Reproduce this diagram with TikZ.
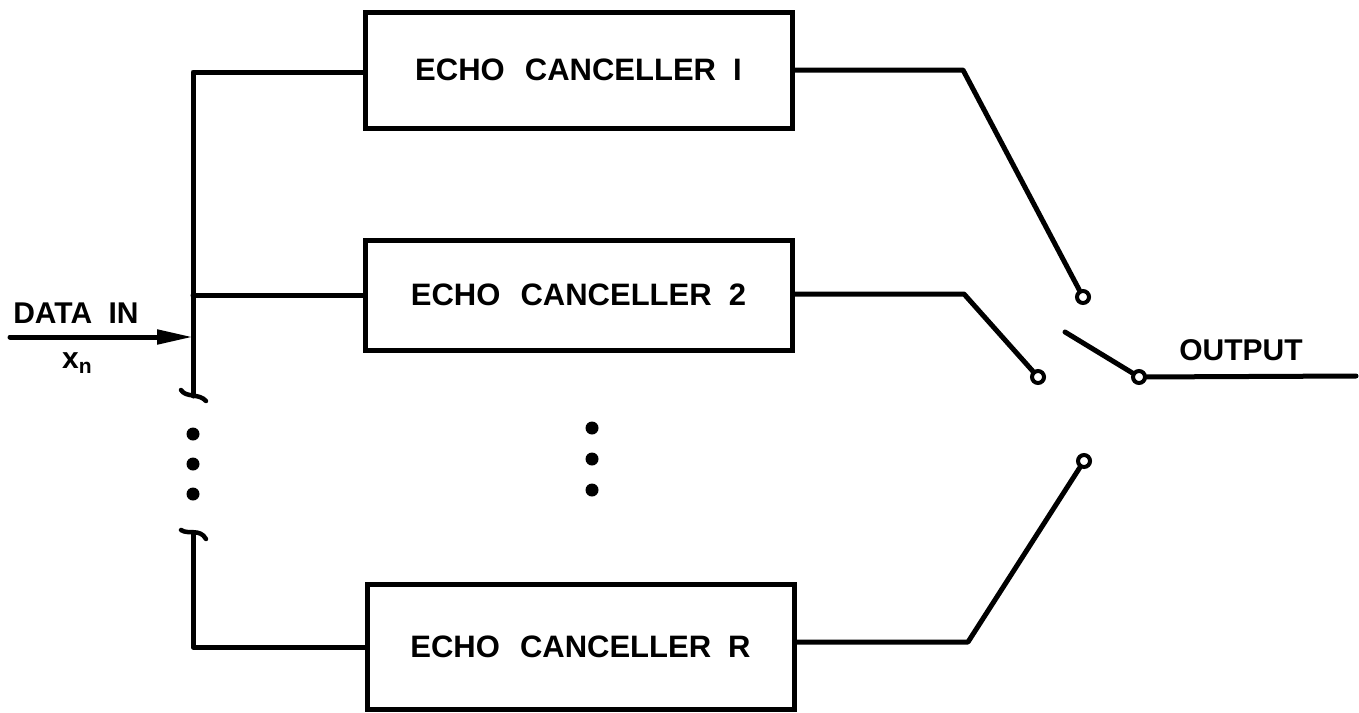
\documentclass[tikz,border=0pt]{standalone}
\usepackage{fontspec}
\setmainfont{Liberation Sans}
\usetikzlibrary{arrows.meta}
\begin{document}
\begin{tikzpicture}[x=1pt,y=-1pt,
  wire/.style={line width=5pt,line join=round,line cap=round},
  ecbox/.style={draw,line width=5pt,minimum width=427pt,inner sep=0pt,font=\fontsize{31}{31}\bfseries},
  lbl/.style={font=\fontsize{30}{30}\bfseries,inner sep=0pt},
  term/.style={circle,draw,line width=4pt,minimum size=12pt,inner sep=0pt,fill=white},
  dotm/.style={circle,fill=black,minimum size=13pt,inner sep=0pt}]
\useasboundingbox (0,0) rectangle (1359,712);
% boxes
\node[ecbox,minimum height=116pt] (b1) at (578.5,70) {ECHO\hspace{0.65em}CANCELLER\hspace{0.55em}I};
\node[ecbox,minimum height=110pt] (b2) at (578.5,295) {ECHO\hspace{0.65em}CANCELLER\hspace{0.55em}2};
\node[ecbox,minimum height=125pt] (bR) at (580.5,647) {ECHO\hspace{0.65em}CANCELLER\hspace{0.55em}R};
% bus coordinates
\coordinate (bt) at (193,72);
\coordinate (bj) at (193,337);
\coordinate (bk) at (193,396);
\coordinate (bl) at (193,533);
\coordinate (bb) at (193,647);
\draw[wire] (b1.west |- bt) -- (bt) -- (bk);
\draw[wire] (b2.west) -- (b2.west -| bt);
\draw[wire] (bl) -- (bb) -- (bR.west);
% hooks
\draw[line width=4.5pt,line cap=round] (181,390) .. controls (186,398) and (199,393) .. (206,401);
\draw[line width=4.5pt,line cap=round] (181,530) .. controls (188,535) and (200,528) .. (206,539);
% input arrow
\coordinate (din) at (10,337);
\draw[wire,-{Triangle[length=36pt,width=14pt]}] (din) -- (bj);
\node[lbl] (dinl) at (76,313) {DATA\hspace{0.55em}IN};
\node[lbl] (xn) at (77,363) {x\raisebox{-5pt}{\fontsize{21}{21}\selectfont n}};
% dots
\node[dotm] (d1) at (193,434) {};
\node[dotm] (d2) at (193,464) {};
\node[dotm] (d3) at (193,494) {};
\node[dotm] (m1) at (592,428) {};
\node[dotm] (m2) at (592,459) {};
\node[dotm] (m3) at (592,490) {};
% switch terminals
\node[term] (c1) at (1083,297) {};
\node[term] (c2) at (1038,377) {};
\node[term] (cR) at (1084,461) {};
\node[term] (pv) at (1139,377) {};
\coordinate (k1) at (963,70);
\coordinate (k2) at (964,294);
\coordinate (kR) at (968,642);
\coordinate (blade) at (1065,332);
\coordinate (out) at (1356,376);
\draw[wire] (b1.east |- k1) -- (k1) -- (c1);
\draw[wire] (b2.east |- k2) -- (k2) -- (c2);
\draw[wire] (bR.east |- kR) -- (kR) -- (cR);
\draw[wire] (blade) -- (pv);
\draw[wire] (pv) -- (out);
\node[lbl] (outl) at (1241,350) {OUTPUT};
\end{tikzpicture}
\end{document}
